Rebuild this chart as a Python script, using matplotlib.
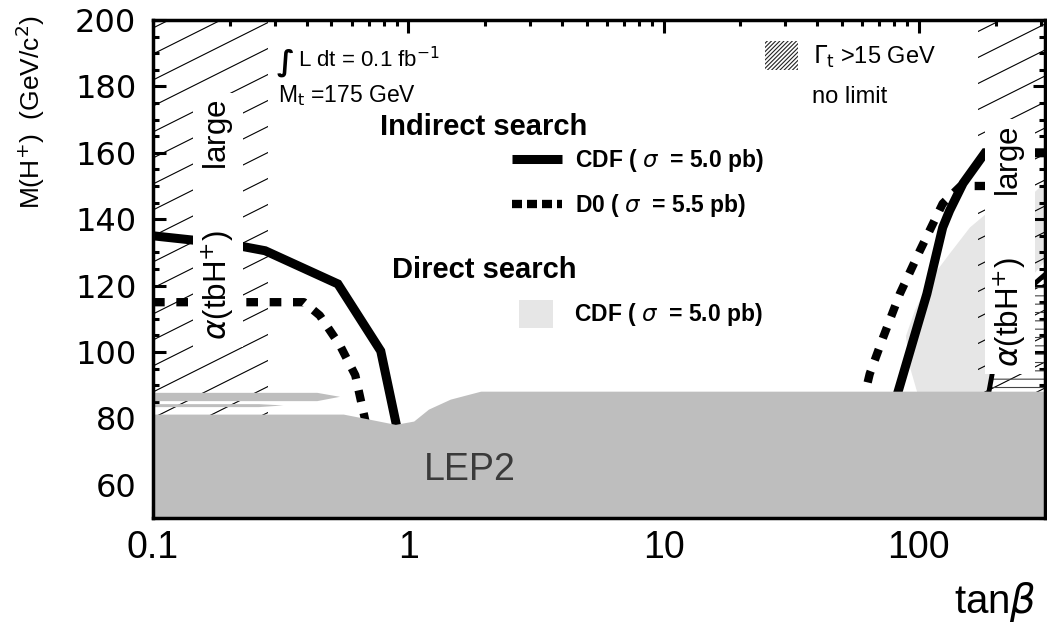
import numpy as np
import matplotlib
matplotlib.use("Agg")
import matplotlib.pyplot as plt
from matplotlib.collections import LineCollection
from matplotlib.lines import Line2D
from matplotlib.patches import Patch
from matplotlib.ticker import FixedLocator, FixedFormatter, MultipleLocator, LogLocator, NullFormatter

plt.rcParams['font.family'] = ['Liberation Sans', 'DejaVu Sans']
plt.rcParams['hatch.linewidth'] = 0.8

# axis ranges
tb_range = [0.1, 312]
m_range = [50, 200]

# indirect search, CDF (sigma = 5.0 pb)
cdf_left_tb = [0.1, 0.2, 0.275, 0.53, 0.78, 0.91]
cdf_left_m = [135, 132.5, 130.5, 120.5, 100.3, 76]
cdf_right_tb = [80, 107.5, 124, 132, 149, 181.6, 312]
cdf_right_m = [84, 117.5, 137.5, 142.6, 150.8, 160, 160]

# indirect search, D0 (sigma = 5.5 pb)
d0_left_tb = [0.1, 0.39, 0.45, 0.54, 0.62, 0.68]
d0_left_m = [115, 115, 111, 102, 93, 79]
d0_right_tb = [60, 64.2, 72.3, 84.2, 100.9, 124, 146, 312]
d0_right_m = [84, 93.4, 104.2, 117.5, 130.5, 144.7, 150, 150]

# direct search, CDF (sigma = 5.0 pb) excluded region
direct_tb = [101, 92, 89, 96.4, 110, 132, 158.5, 190, 280, 312, 312, 249, 208, 185]
direct_m = [85, 95.8, 104.8, 112.4, 121.5, 129.6, 137.5, 142.6, 147.7, 151, 127.5, 118.4, 103.3, 85]

# Gamma_t > 15 GeV region
gamma_tb = [185, 198, 213, 238, 272, 298, 312, 312]
gamma_m = [85, 97.3, 105.4, 113.9, 119.3, 122, 123.3, 85]

# LEP2 exclusion
lep_tb = [0.1, 0.556, 0.7, 0.89, 1.05, 1.2, 1.46, 1.92, 312]
lep_m = [81.3, 81.3, 79.8, 78.2, 79.2, 82.8, 85.8, 88.2, 88.2]
sliver1_tb = [0.1, 0.44, 0.54, 0.44, 0.1]
sliver1_m = [87.7, 87.7, 86.5, 85.2, 85.2]
sliver2_tb = [0.1, 0.26, 0.324, 0.26, 0.1]
sliver2_m = [84.3, 84.3, 83.9, 83.4, 83.4]

# alpha(tbH+) large regions
alpha_left = [0.1, 0.282]
alpha_right = [170, 312]

x_ticks = [0.1, 1, 10, 100]
x_ticklabels = ['0.1', '1', '10', '100']

fig = plt.figure(figsize=(10.47, 6.30), dpi=100)
ax = fig.add_axes([153 / 1047, 1 - 518 / 630, 892 / 1047, 498 / 630])
ax.set_xscale('log')
ax.set_xlim(tb_range)
ax.set_ylim(m_range)

ax.fill(direct_tb, direct_m, color='#e6e6e6', lw=0, zorder=1)


def sparse_hatch(x0, x1):
    span = ax.axvspan(x0, x1, facecolor='none', edgecolor='none')
    w, h = 892, 498
    slope = 0.5 * w / h
    step = 26 / h
    segs = [[(0, c), (1, c + slope)] for c in np.arange(-slope - step, 1 + step, step)]
    lc = LineCollection(segs, colors='black', linewidths=0.8,
                        transform=ax.transAxes, zorder=2)
    ax.add_collection(lc, autolim=False)
    lc.set_clip_path(span)


sparse_hatch(*alpha_left)
sparse_hatch(*alpha_right)

ax.fill(gamma_tb, gamma_m, facecolor='none', edgecolor='#444444', hatch='--', lw=0, zorder=2)
ax.plot(gamma_tb[:-1], gamma_m[:-1], color='black', lw=3.5, zorder=3)

cdf_kw = dict(color='black', lw=6.5, solid_capstyle='butt', solid_joinstyle='miter', zorder=3)
d0_kw = dict(color='black', lw=6, dashes=(1.4, 1.4), dash_capstyle='butt', zorder=3)
ax.plot(cdf_left_tb, cdf_left_m, **cdf_kw)
ax.plot(cdf_right_tb, cdf_right_m, **cdf_kw)
ax.plot(d0_left_tb, d0_left_m, **d0_kw)
ax.plot(d0_right_tb, d0_right_m, **d0_kw)

ax.fill_between(lep_tb, 50, lep_m, color='#bebebe', lw=0, zorder=4)
ax.fill(sliver1_tb, sliver1_m, color='#bebebe', lw=0, zorder=4)
ax.fill(sliver2_tb, sliver2_m, color='#bebebe', lw=0, zorder=4)
ax.text(0.355, 0.096, 'LEP2', transform=ax.transAxes, ha='center', va='center',
        fontsize=27, color='#3a3a3a', zorder=6)

alpha_label = r'$\alpha$(tbH$^{+}$)       large'
box = dict(facecolor='white', edgecolor='none', pad=5)
ax.text(0.073, 0.598, alpha_label, transform=ax.transAxes, rotation=90,
        ha='center', va='center', fontsize=22.5, bbox=box, zorder=5)
ax.text(0.9605, 0.545, alpha_label, transform=ax.transAxes, rotation=90,
        ha='center', va='center', fontsize=22.5, bbox=box, zorder=5)

# annotations
ax.text(0.139, 0.915, '\u222b', transform=ax.transAxes, ha='left', va='center',
        fontsize=21, family='DejaVu Sans', fontweight='bold', style='italic')
ax.text(0.162, 0.92, r'L dt = 0.1 fb$^{-1}$', transform=ax.transAxes,
        ha='left', va='center', fontsize=16)
ax.text(0.140, 0.849, r'M$_{\rm t}$ =175 GeV', transform=ax.transAxes,
        ha='left', va='center', fontsize=16.5)
ax.text(0.2545, 0.785, 'Indirect search', transform=ax.transAxes,
        ha='left', va='center', fontsize=21, fontweight='bold')
ax.text(0.268, 0.498, 'Direct search', transform=ax.transAxes,
        ha='left', va='center', fontsize=21, fontweight='bold')
ax.text(0.739, 0.845, 'no limit', transform=ax.transAxes,
        ha='left', va='center', fontsize=17)

# legends
h_cdf = Line2D([], [], color='black', lw=6.5, solid_capstyle='butt')
h_d0 = Line2D([], [], color='black', lw=6, dashes=(1.2, 0.6), dash_capstyle='butt')
leg1 = ax.legend([h_cdf, h_d0],
                 [r'CDF ( $\sigma$  = 5.0 pb)', r'D0 ( $\sigma$  = 5.5 pb)'],
                 loc='upper left', bbox_to_anchor=(0.4025, 0.745), frameon=False,
                 borderpad=0, borderaxespad=0, handlelength=2.2, handletextpad=0.55,
                 labelspacing=0.8, prop=dict(size=16.5, weight='bold'))
leg1.set_zorder(7)
ax.add_artist(leg1)

h_direct = Patch(facecolor='#e6e6e6', edgecolor='none')
leg2 = ax.legend([h_direct], [r'CDF ( $\sigma$  = 5.0 pb)'],
                 loc='center left', bbox_to_anchor=(0.410, 0.410), frameon=False,
                 borderpad=0, borderaxespad=0, handlelength=1.5, handleheight=1.5,
                 handletextpad=0.9, prop=dict(size=16.5, weight='bold'))
leg2.set_zorder(7)
ax.add_artist(leg2)

h_gamma = Patch(facecolor='white', edgecolor='#222222', hatch='////////', lw=0)
leg3 = ax.legend([h_gamma], [r'$\Gamma_{\rm t}$ >15 GeV'],
                 loc='center left', bbox_to_anchor=(0.686, 0.928), frameon=False,
                 borderpad=0, borderaxespad=0, handlelength=1.4, handleheight=1.5,
                 handletextpad=0.65, prop=dict(size=17))
leg3.set_zorder(7)

# axes styling
for s in ax.spines.values():
    s.set_linewidth(2.5)
    s.set_zorder(8)
ax.xaxis.set_major_locator(FixedLocator(x_ticks))
ax.xaxis.set_major_formatter(FixedFormatter(x_ticklabels))
ax.xaxis.set_minor_locator(LogLocator(base=10, subs=np.arange(2, 10)))
ax.xaxis.set_minor_formatter(NullFormatter())
ax.yaxis.set_major_locator(MultipleLocator(20))
ax.yaxis.set_minor_locator(MultipleLocator(5))
ax.tick_params(which='both', direction='in', top=True, right=True, width=2.2)
ax.tick_params(which='major', length=9)
ax.tick_params(which='minor', length=4.5)
ax.tick_params(axis='x', which='major', pad=9, labelsize=27)
ax.tick_params(axis='y', which='major', pad=12, labelsize=23)
for lab in ax.get_yticklabels():
    lab.set_family('DejaVu Sans')

fig.text(30 / 1047, 1 - 112 / 630, r'M(H$^{+}$)  (GeV/c$^{2}$)', rotation=90,
         ha='center', va='center', fontsize=19)
fig.text(995 / 1047, 1 - 602 / 630, r'tan$\beta$', ha='center', va='center', fontsize=29)

fig.savefig('out.png', dpi=100)
